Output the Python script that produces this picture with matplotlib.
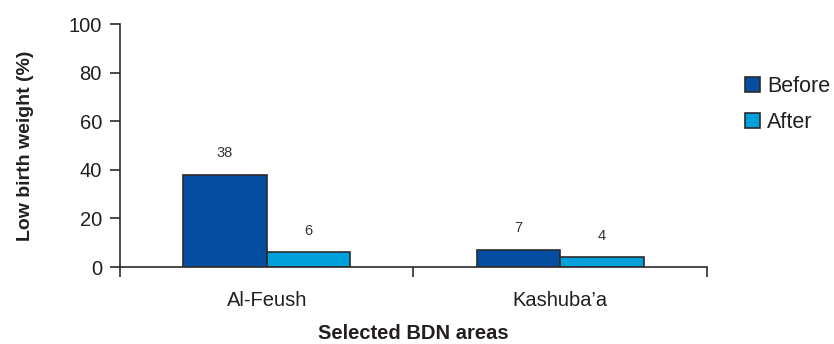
import numpy as np
import matplotlib.pyplot as plt
from matplotlib.patches import Patch

plt.rcParams["font.family"] = ["Liberation Sans", "DejaVu Sans"]

areas = ["Al-Feush", "Kashuba\u2019a"]
before = [38, 7]
after = [6, 4]
series_names = ["Before", "After"]
y_ticks = [0, 20, 40, 60, 80, 100]

c_before = "#054da0"
c_after = "#00a0dc"
edge = "#2b2b2b"
text_c = "#231f20"

fig = plt.figure(figsize=(8.34, 3.44), dpi=100)
ax = fig.add_axes([0.1439, 0.2238, 0.7038, 0.7062])

x = np.arange(len(areas))
w = 0.285
ax.bar(x - w / 2, before, w, color=c_before, edgecolor=edge, linewidth=1.2)
ax.bar(x + w / 2, after, w, color=c_after, edgecolor=edge, linewidth=1.2)

# valores encima de cada barra
for xi, v in zip(x - w / 2, before):
    ax.text(xi, v + 6, str(v), ha="center", va="bottom", fontsize=10.5, color="#333333")
for xi, v in zip(x + w / 2, after):
    ax.text(xi, v + 6, str(v), ha="center", va="bottom", fontsize=10.5, color="#333333")

ax.set_xlim(-0.5, len(areas) - 0.5)
ax.set_ylim(0, 100)
ax.set_yticks(y_ticks)
ax.set_yticklabels([str(t) for t in y_ticks], fontsize=14.5, color=text_c)

# marcas del eje x en los limites de cada categoria
ax.set_xticks(np.arange(len(areas) + 1) - 0.5)
ax.set_xticklabels([])
ax.set_xticks(x, minor=True)
ax.set_xticklabels(areas, minor=True, fontsize=14.5, color=text_c)
ax.tick_params(axis="x", which="minor", length=0, pad=17)
ax.tick_params(axis="x", which="major", length=7, width=1.2, color=edge)
ax.tick_params(axis="y", length=7, width=1.2, color=edge, pad=6)

for s in ["top", "right"]:
    ax.spines[s].set_visible(False)
for s in ["left", "bottom"]:
    ax.spines[s].set_color(edge)
    ax.spines[s].set_linewidth(1.2)

ax.set_ylabel("Low birth weight (%)", fontsize=14, fontweight="bold", color=text_c, labelpad=25)
ax.set_xlabel("Selected BDN areas", fontsize=14.5, fontweight="bold", color=text_c, labelpad=10)

handles = [Patch(facecolor=c_before, edgecolor=edge, linewidth=1.2),
           Patch(facecolor=c_after, edgecolor=edge, linewidth=1.2)]
fig.legend(handles, series_names, loc="center left", bbox_to_anchor=(0.893, 0.695),
           frameon=False, fontsize=15.5, handlelength=0.7, handleheight=0.7,
           handletextpad=0.35, labelspacing=0.7, borderpad=0, borderaxespad=0,
           labelcolor=text_c)

fig.savefig("out.png", dpi=100)
